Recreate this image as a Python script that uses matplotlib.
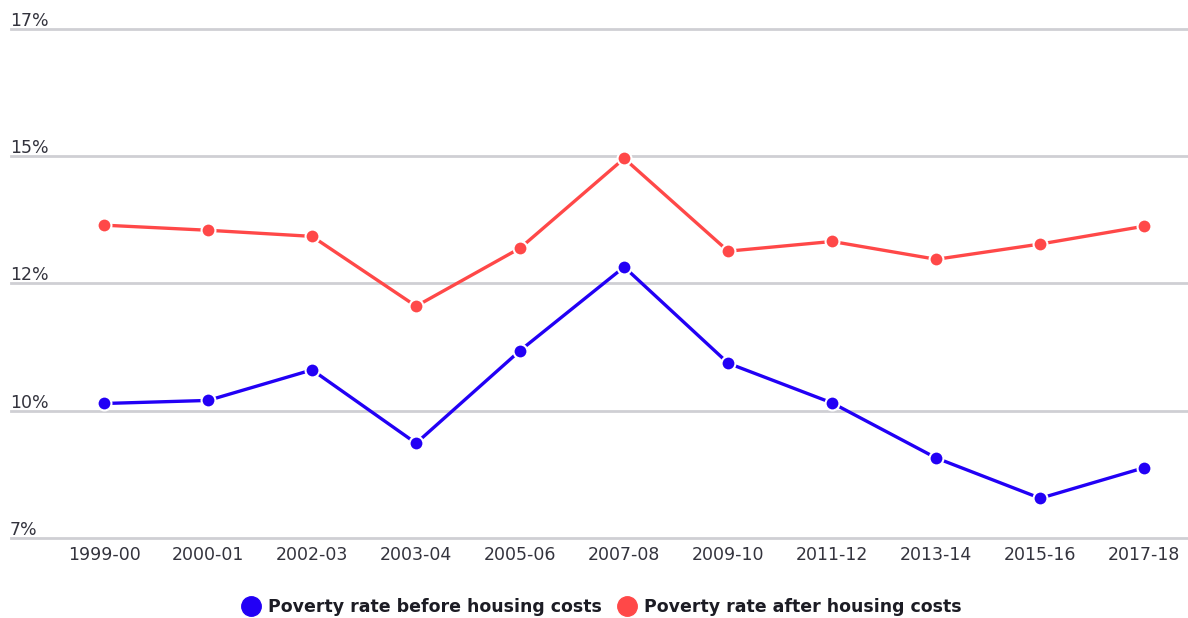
import matplotlib.pyplot as plt
from matplotlib.lines import Line2D
import matplotlib.transforms as mtransforms

years = ["1999-00", "2000-01", "2002-03", "2003-04", "2005-06", "2007-08",
         "2009-10", "2011-12", "2013-14", "2015-16", "2017-18"]
before_hc = [10.14, 10.20, 10.80, 9.36, 11.18, 12.82, 10.93, 10.15, 9.07, 8.28, 8.88]
after_hc = [13.64, 13.54, 13.42, 12.05, 13.19, 14.95, 13.13, 13.32, 12.97, 13.27, 13.62]
y_ticks = [7.5, 10, 12.5, 15, 17.5]
y_labels = ["7%", "10%", "12%", "15%", "17%"]

BLUE = "#2200f5"
RED = "#ff4848"
GRID = "#cfcfd4"
TEXT = "#33333d"

fig = plt.figure(figsize=(11.88, 6.18), dpi=100)
ax = fig.add_axes([11 / 1188, 1 - 538 / 618, 1 - 11 / 1188, (538 - 28.5) / 618])

x = list(range(len(years)))
for vals, col in [(after_hc, RED), (before_hc, BLUE)]:
    ax.plot(x, vals, color=col, lw=2.4, marker="o", ms=10,
            mfc=col, mec="white", mew=1.5, zorder=3)

ax.set_xlim(-0.894, 10.42)
ax.set_ylim(7.5, 17.5)
ax.set_yticks(y_ticks)
ax.set_yticklabels([])
ax.tick_params(axis="y", length=0)
ax.grid(axis="y", color=GRID, lw=2)
for gl in ax.get_ygridlines():
    gl.set_clip_on(False)
ax.set_axisbelow(True)
for s in ax.spines.values():
    s.set_visible(False)

ax.set_xticks(x)
ax.set_xticklabels(years, fontsize=12.5, color=TEXT)
ax.tick_params(axis="x", length=0, pad=6)

# y labels sit on top of their gridlines at the left edge
trans = mtransforms.blended_transform_factory(ax.transAxes, ax.transData)
for v, lab in zip(y_ticks, y_labels):
    ax.annotate(lab, xy=(0, v), xycoords=trans, xytext=(-1, 3),
                textcoords="offset pixels", ha="left", va="baseline",
                fontsize=12.5, color=TEXT)

handles = [
    Line2D([], [], ls="none", marker="o", ms=14, color=BLUE),
    Line2D([], [], ls="none", marker="o", ms=14, color=RED),
]
fig.legend(handles, ["Poverty rate before housing costs", "Poverty rate after housing costs"],
           loc="center", bbox_to_anchor=(0.506, 1 - 607 / 618), ncol=2, frameon=False,
           prop={"size": 12.5, "weight": "bold"}, labelcolor="#1c1c24",
           handletextpad=0.4, columnspacing=0.8, handlelength=1.2)

fig.savefig("out.png", dpi=100)
